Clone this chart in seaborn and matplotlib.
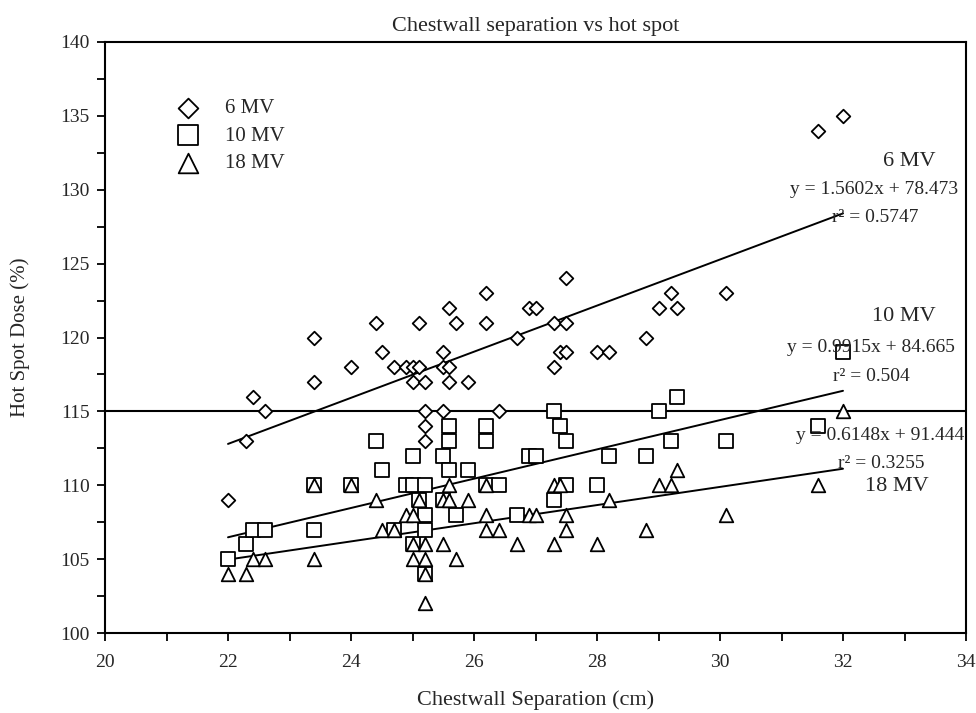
import matplotlib
matplotlib.use("Agg")
import matplotlib.pyplot as plt
import seaborn as sns
import pandas as pd

# values
sep_6mv = [22.0, 22.3, 22.4, 22.6, 23.4, 23.4, 24.0, 24.4, 24.5, 24.7, 24.9, 25.0,
           25.1, 25.0, 25.2, 25.1, 25.2, 25.2, 25.2, 25.5, 25.5, 25.6, 25.6, 25.7,
           25.6, 25.5, 25.9, 26.2, 26.2, 26.4, 26.7, 26.9, 27.0, 27.3, 27.5, 27.5,
           27.4, 27.5, 27.3, 28.0, 28.2, 28.8, 29.0, 29.2, 29.3, 30.1, 31.6, 32.0]
dose_6mv = [109, 113, 116, 115, 117, 120, 118, 121, 119, 118, 118, 118,
            118, 117, 117, 121, 115, 114, 113, 119, 118, 118, 122, 121,
            117, 115, 117, 123, 121, 115, 120, 122, 122, 121, 124, 121,
            119, 119, 118, 119, 119, 120, 122, 123, 122, 123, 134, 135]

sep_10mv = [22.0, 22.3, 22.4, 22.6, 23.4, 23.4, 24.0, 24.4, 24.5, 24.7, 24.9, 25.0,
            25.2, 25.0, 25.0, 25.1, 25.2, 25.2, 25.2, 25.5, 25.5, 25.6, 25.6, 25.6,
            25.7, 25.9, 26.2, 26.2, 26.2, 26.4, 26.7, 26.9, 27.0, 27.3, 27.3, 27.4,
            27.5, 27.5, 28.0, 28.2, 28.8, 29.0, 29.2, 29.3, 30.1, 31.6, 32.0]
dose_10mv = [105, 106, 107, 107, 107, 110, 110, 113, 111, 107, 110, 110,
             110, 112, 106, 109, 108, 107, 104, 112, 109, 114, 113, 111,
             108, 111, 114, 113, 110, 110, 108, 112, 112, 115, 109, 114,
             113, 110, 110, 112, 112, 115, 113, 116, 113, 114, 119]

sep_18mv = [22.0, 22.3, 22.4, 22.6, 23.4, 23.4, 24.0, 24.4, 24.5, 24.7, 24.9, 25.0,
            25.0, 25.2, 25.0, 25.2, 25.2, 25.2, 25.1, 25.5, 25.6, 25.6, 25.5, 25.7,
            25.9, 26.2, 26.2, 26.2, 26.4, 26.7, 26.9, 27.0, 27.3, 27.4, 27.3, 27.5,
            27.5, 28.0, 28.2, 28.8, 29.0, 29.2, 29.3, 30.1, 31.6, 32.0]
dose_18mv = [104, 104, 105, 105, 105, 110, 110, 109, 107, 107, 108, 108,
             106, 106, 105, 105, 104, 102, 109, 109, 109, 110, 106, 105,
             109, 110, 108, 107, 107, 106, 108, 108, 110, 110, 106, 108,
             107, 106, 109, 107, 110, 110, 111, 108, 110, 115]

energies = ["6 MV", "10 MV", "18 MV"]
slopes = [1.5602, 0.9915, 0.6148]
intercepts = [78.473, 84.665, 91.444]
r2_labels = ["0.5747", "0.504", "0.3255"]
fit_range = [22, 32]
threshold = 115

df = pd.concat([
    pd.DataFrame({"sep": sep_6mv, "dose": dose_6mv, "energy": "6 MV"}),
    pd.DataFrame({"sep": sep_10mv, "dose": dose_10mv, "energy": "10 MV"}),
    pd.DataFrame({"sep": sep_18mv, "dose": dose_18mv, "energy": "18 MV"}),
])

sns.set_style("ticks")
plt.rcParams["font.family"] = ["Liberation Serif", "DejaVu Serif"]

fig = plt.figure(figsize=(9.76, 7.13), dpi=100)
ax = fig.add_axes([105 / 976, 1 - 633 / 713, 861 / 976, 591 / 713])

markers = {"6 MV": "D", "10 MV": "s", "18 MV": "^"}
msize = {"6 MV": 48, "10 MV": 105, "18 MV": 95}
for e in energies:
    sub = df[df["energy"] == e]
    sns.scatterplot(data=sub, x="sep", y="dose", marker=markers[e], s=msize[e],
                    color="white", edgecolor="black", linewidth=1.3,
                    label=e, ax=ax, zorder=3)

# trend lines from the printed fits
for m, b in zip(slopes, intercepts):
    xs = fit_range
    ax.plot(xs, [m * x + b for x in xs], color="black", lw=1.4, zorder=2)

ax.axhline(threshold, color="black", lw=1.5, zorder=2)

ax.set_xlim(20, 34)
ax.set_ylim(100, 140)
ax.set_xticks(range(20, 35, 2))
ax.set_xticks(range(21, 34, 2), minor=True)
ax.set_yticks(range(100, 141, 5))
ax.set_yticks([100 + 2.5 * i for i in range(1, 16, 2)], minor=True)
ax.tick_params(which="both", direction="out", length=6, width=1.3, color="black",
               labelsize=14)
ax.tick_params(axis="y", pad=5)
ax.tick_params(axis="x", pad=9)
for sp in ax.spines.values():
    sp.set_visible(True)
    sp.set_color("black")
    sp.set_linewidth(1.5)

ax.set_xlabel("Chestwall Separation (cm)", fontsize=16, labelpad=14)
ax.set_ylabel("Hot Spot Dose (%)", fontsize=15, labelpad=22)
ax.set_title("Chestwall separation vs hot spot", fontsize=16, pad=8)

ax.legend(loc="upper left", bbox_to_anchor=(0.063, 0.918), frameon=False,
          fontsize=15, markerscale=1.45, handletextpad=0.75, labelspacing=0.38,
          borderaxespad=0)

# fit annotations
ax.text(33.5, 131.9, "6 MV", ha="right", va="center", fontsize=16)
ax.text(32.5, 130.0, "y = 1.5602x + 78.473", ha="center", va="center", fontsize=14)
ax.text(32.53, 128.1, "r² = " + r2_labels[0], ha="center", va="center", fontsize=14)
ax.text(33.5, 121.4, "10 MV", ha="right", va="center", fontsize=16)
ax.text(32.46, 119.3, "y = 0.9915x + 84.665", ha="center", va="center", fontsize=14)
ax.text(32.46, 117.35, "r² = " + r2_labels[1], ha="center", va="center", fontsize=14)
ax.text(32.61, 113.4, "y = 0.6148x + 91.444", ha="center", va="center", fontsize=14,
        clip_on=False)
ax.text(32.62, 111.5, "r² = " + r2_labels[2], ha="center", va="center", fontsize=14)
ax.text(32.87, 109.9, "18 MV", ha="center", va="center", fontsize=16)

fig.savefig("out.png", dpi=100)
